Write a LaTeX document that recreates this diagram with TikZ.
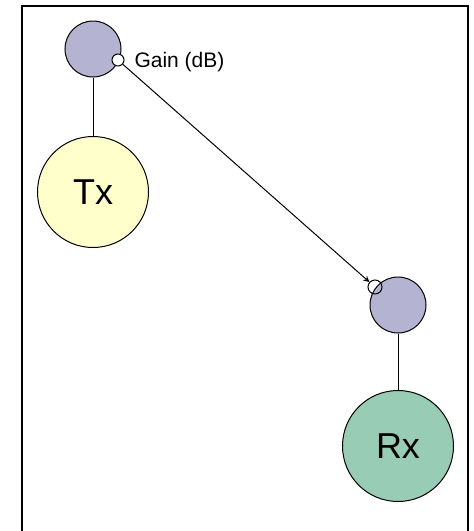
\documentclass[tikz,border=0pt]{standalone}
\usepackage{fontspec}
\setmainfont{Liberation Sans}
\usetikzlibrary{arrows.meta}

\definecolor{hubblue}{RGB}{180,180,210}
\definecolor{txyellow}{RGB}{255,255,204}
\definecolor{rxgreen}{RGB}{153,204,180}

\tikzset{
  hub/.style={circle,draw,fill=hubblue,minimum size=56pt,inner sep=0pt},
  antenna/.style={circle,draw,minimum size=111pt,inner sep=0pt,font=\fontsize{36}{40}\selectfont},
  port/.style={circle,draw,minimum size=12pt,inner sep=0pt},
}

\begin{document}
\begin{tikzpicture}[x=1pt,y=-1pt,line width=1pt]
	\useasboundingbox (0,0) rectangle (474,531);
	\clip (0,0) rectangle (474,531);
	\draw[line width=2pt] (22,6) rectangle (468,560);
	% transmitter side
	\node[hub] (txhub) at (93,49) {};
	\node[antenna,fill=txyellow] (tx) at (93,192) {Tx};
	\draw (txhub) -- (tx);
	\node[port,fill=white] (txport) at (118,60) {};
	\node[anchor=base west,inner sep=0pt,font=\fontsize{21}{24}\selectfont] (gain) at (134,67) {Gain (dB)};
	% receiver side
	\node[hub] (rxhub) at (398,305) {};
	\node[antenna,fill=rxgreen] (rx) at (398,446) {Rx};
	\draw (rxhub) -- (rx);
	\node[port,minimum size=14pt] (rxport) at (375,287) {};
	\draw[-{Stealth[length=6pt,width=6pt,open]}] (txport) -- (rxport);
\end{tikzpicture}
\end{document}
